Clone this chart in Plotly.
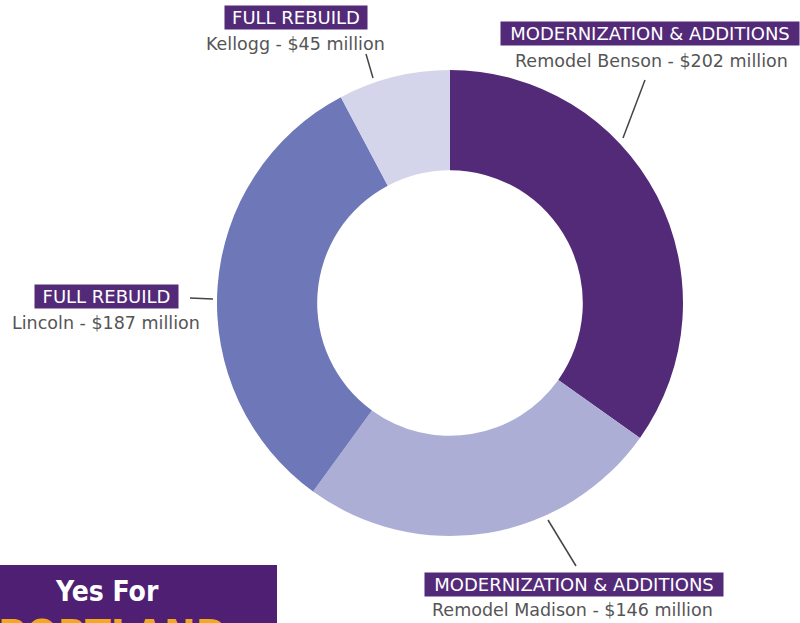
import plotly.graph_objects as go

W, H = 800, 623
schools = ["Benson", "Madison", "Lincoln", "Kellogg"]
values = [202, 146, 187, 45]
categories = ["MODERNIZATION & ADDITIONS", "MODERNIZATION & ADDITIONS", "FULL REBUILD", "FULL REBUILD"]
descriptions = ["Remodel Benson - $202 million", "Remodel Madison - $146 million",
                "Lincoln - $187 million", "Kellogg - $45 million"]
colors = ["#532a78", "#adaed6", "#6e78b9", "#d4d5eb"]

def px(x):
    return x / W

def py(y):
    return 1 - y / H

cx, cy, R = 450, 303, 233

fig = go.Figure(go.Pie(
    labels=schools, values=values, hole=0.57, sort=False, direction="clockwise",
    rotation=0, marker=dict(colors=colors, line=dict(width=0)),
    textinfo="none", hoverinfo="label+value", showlegend=False,
    domain=dict(x=[px(cx - R), px(cx + R)], y=[py(cy + R), py(cy - R)]),
))

# (tag center x, tag center y, tag width, desc center x, desc center y, leader line)
label_pos = [
    (649.5, 33.5, 298, 651, 61, ((623, 138), (645, 80))),
    (573.5, 584, 298, 572, 610, ((548, 520), (576, 566))),
    (106.5, 296, 143, 106, 323, ((190, 298), (213, 299))),
    (296, 17.5, 142, 295, 44, ((373, 78), (366, 54))),
]

FONT = "DejaVu Sans"
annotations = []
shapes = []
for cat, desc, (tx, ty, tw, dx, dy, line) in zip(categories, descriptions, label_pos):
    annotations.append(dict(
        x=px(tx), y=py(ty), xref="paper", yref="paper", text=cat, showarrow=False,
        font=dict(family=FONT, size=18, color="white"), bgcolor="#532a78",
        width=tw, height=23, borderpad=0, xanchor="center", yanchor="middle"))
    annotations.append(dict(
        x=px(dx), y=py(dy), xref="paper", yref="paper", text=desc, showarrow=False,
        font=dict(family=FONT, size=17.5, color="#555555"),
        xanchor="center", yanchor="middle"))
    (x0, y0), (x1, y1) = line
    shapes.append(dict(type="line", xref="paper", yref="paper",
                       x0=px(x0), y0=py(y0), x1=px(x1), y1=py(y1),
                       line=dict(color="#444444", width=1.5)))

shapes.append(dict(type="rect", xref="paper", yref="paper", x0=0, x1=px(277),
                   y0=0, y1=py(565), fillcolor="#4f1f74", line=dict(width=0), layer="below"))
annotations.append(dict(x=px(107), y=py(591), xref="paper", yref="paper", text="<b>Yes For</b>",
                        showarrow=False, font=dict(family="DejaVu Sans Condensed", size=28, color="white"),
                        xanchor="center", yanchor="middle"))
annotations.append(dict(x=px(112), y=py(609), xref="paper", yref="paper", text="<b>PORTLAND</b>",
                        showarrow=False, font=dict(family="DejaVu Sans Condensed", size=42, color="#f5a81c"),
                        xanchor="center", yanchor="top"))

fig.update_layout(
    width=W, height=H, margin=dict(l=0, r=0, t=0, b=0),
    paper_bgcolor="white", plot_bgcolor="white",
    annotations=annotations, shapes=shapes,
)
fig.write_html("out.html", config={"displayModeBar": False},
               post_script="document.body.style.margin='0';document.body.style.overflow='hidden';")
